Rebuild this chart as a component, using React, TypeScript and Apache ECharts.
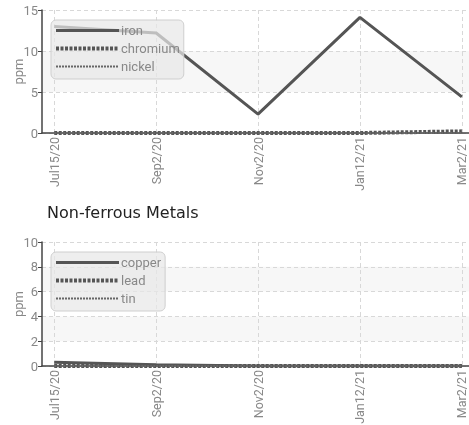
import React, { useEffect, useRef } from "react";
import * as echarts from "echarts";

const categories = ["Jul15/20", "Sep2/20", "Nov2/20", "Jan12/21", "Mar2/21"];
const ironValues = [13.0, 12.2, 2.3, 14.1, 4.4];
const chromiumValues = [0, 0, 0, 0, 0.2];
const nickelValues = [0, 0, 0, 0, 0];
const copperValues = [0.3, 0.1, 0, 0, 0];
const leadValues = [0, 0, 0, 0, 0];
const tinValues = [0, 0, 0, 0, 0];
const topTicks = [0, 5, 10, 15];
const bottomTicks = [0, 2, 4, 6, 8, 10];
const title2 = "Non-ferrous Metals";

const FONT = "Roboto, sans-serif";

const toPairs = (vals: number[]) => vals.map((v, i) => [i, v]);

export default function App() {
  const ref = useRef<HTMLDivElement>(null);
  useEffect(() => {
    if (!ref.current) return;
    const chart = echarts.init(ref.current, undefined, { renderer: "svg" });
    const idx = categories.map((_, i) => i);

    const xAxis = (gridIndex: number) => ({
      type: "value",
      gridIndex,
      min: -0.12,
      max: 4.07,
      axisLine: { show: true, onZero: false, lineStyle: { color: "#444", width: 1.5 } },
      axisTick: { show: false, customValues: idx },
      axisLabel: {
        customValues: idx,
        rotate: 90,
        color: "#888",
        fontFamily: FONT,
        fontSize: 12.5,
        margin: 4,
        formatter: (v: number) => categories[Math.round(v)] ?? "",
      },
      splitLine: { show: true, lineStyle: { color: "#d8d8d8", type: [4, 3], width: 1 } },
    });

    const yAxis = (gridIndex: number, ticks: number[]) => ({
      type: "value",
      gridIndex,
      min: ticks[0],
      max: ticks[ticks.length - 1],
      interval: ticks[1] - ticks[0],
      name: "ppm",
      nameLocation: "middle",
      nameGap: 17,
      nameMoveOverlap: false,
      nameTextStyle: { color: "#888", fontFamily: FONT, fontSize: 13 },
      axisLine: { show: true, onZero: false, lineStyle: { color: "#444", width: 1.5 } },
      axisTick: { show: true, length: 4, lineStyle: { color: "#444" } },
      axisLabel: { color: "#888", fontFamily: FONT, fontSize: 13, margin: 4 },
      splitLine: { show: true, lineStyle: { color: "#d8d8d8", type: [4, 3], width: 1 } },
      splitArea: { show: true, areaStyle: { color: ["rgba(255,255,255,0)", "#f7f7f7"] } },
    });

    const lineSeries = (
      name: string,
      vals: number[],
      grid: number,
      width: number,
      type: any,
      color: string
    ) => ({
      name,
      type: "line",
      xAxisIndex: grid,
      yAxisIndex: grid,
      data: toPairs(vals),
      symbol: "none",
      lineStyle: { width, type, color, cap: "butt" },
      itemStyle: { color },
    });

    const legendBase = {
      orient: "vertical",
      itemWidth: 63,
      itemHeight: 6,
      itemGap: 5,
      backgroundColor: "rgba(232,232,232,0.72)",
      borderColor: "#cfcfcf",
      borderWidth: 1,
      borderRadius: 5,
      padding: [4, 4, 6, 3],
      itemStyle: { opacity: 0, borderWidth: 0 },
      lineStyle: { width: "inherit", type: "inherit", cap: "butt" },
      textStyle: { color: "#888", fontFamily: FONT, fontSize: 13, padding: [0, 0, 0, -3] },
      inactiveColor: "#888",
    };

    chart.setOption({
      animation: false,
      title: {
        text: title2,
        left: 42,
        top: 199,
        textStyle: { color: "#222", fontFamily: "'DejaVu Sans', sans-serif", fontSize: 16, fontWeight: "normal" },
      },
      grid: [
        { left: 42, right: 0, top: 10, height: 123, outerBoundsMode: "none" },
        { left: 42, right: 0, top: 242, height: 124, outerBoundsMode: "none" },
      ],
      xAxis: [xAxis(0), xAxis(1)],
      yAxis: [yAxis(0, topTicks), yAxis(1, bottomTicks)],
      legend: [
        { ...legendBase, data: ["iron", "chromium", "nickel"], left: 51, top: 20 },
        { ...legendBase, data: ["copper", "lead", "tin"], left: 51, top: 252 },
      ],
      series: [
        lineSeries("iron", ironValues, 0, 3, "solid", "#555"),
        lineSeries("chromium", chromiumValues, 0, 4, [3, 1.5], "#555"),
        lineSeries("nickel", nickelValues, 0, 2, [2, 1], "#666"),
        lineSeries("copper", copperValues, 1, 3, "solid", "#555"),
        lineSeries("lead", leadValues, 1, 4, [3, 1.5], "#555"),
        lineSeries("tin", tinValues, 1, 2, [2, 1], "#666"),
      ],
    });
    return () => chart.dispose();
  }, []);
  return (
    <div
      ref={ref}
      style={{ position: "fixed", left: 0, top: 0, width: 469, height: 425 }}
    />
  );
}
